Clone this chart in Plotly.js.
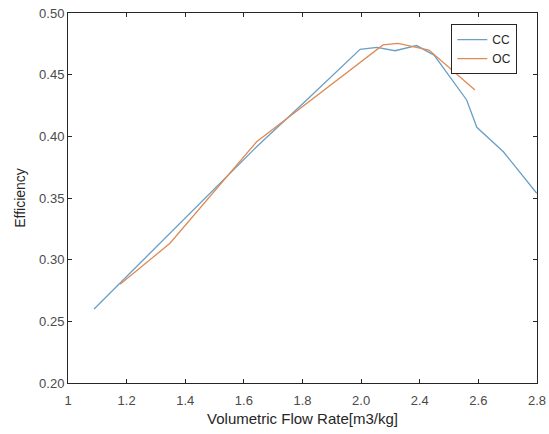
<!DOCTYPE html>
<html>
<head>
<meta charset="utf-8">
<script src="https://cdn.plot.ly/plotly-3.0.1.min.js"></script>
<style>html,body{margin:0;padding:0;background:#fff;}#chart{width:549px;height:434px;}</style>
</head>
<body>
<div id="chart"></div>
<script>
// Data
const ccX = [1.100, 1.724, 1.916, 2.121, 2.186, 2.255, 2.338, 2.405, 2.530, 2.569, 2.671, 2.799];
const ccY = [0.260, 0.3916, 0.4295, 0.4706, 0.4722, 0.4694, 0.4736, 0.4659, 0.4295, 0.4073, 0.3875, 0.3538];
const ocX = [1.200, 1.3915, 1.724, 2.209, 2.2665, 2.3625, 2.3855, 2.562];
const ocY = [0.280, 0.3133, 0.3956, 0.4741, 0.4754, 0.4714, 0.4700, 0.4376];
const xTickVals = [1, 1.225, 1.45, 1.675, 1.9, 2.125, 2.35, 2.575, 2.8];
const xTickText = ['1', '1.2', '1.4', '1.6', '1.8', '2.0', '2.4', '2.6', '2.8'];
const yTickVals = [0.20, 0.25, 0.30, 0.35, 0.40, 0.45, 0.50];
const yTickText = ['0.20', '0.25', '0.30', '0.35', '0.40', '0.45', '0.50'];
const seriesNames = ['CC', 'OC'];

const traces = [
  {x: ccX, y: ccY, name: seriesNames[0], mode: 'lines', type: 'scatter',
   line: {color: '#6a9fc6', width: 1.3}},
  {x: ocX, y: ocY, name: seriesNames[1], mode: 'lines', type: 'scatter',
   line: {color: '#df8a55', width: 1.3}}
];

const axisCommon = {
  showline: true, linecolor: '#262626', linewidth: 1, mirror: 'allticks',
  ticks: 'inside', ticklen: 4, tickcolor: '#262626', tickwidth: 1,
  showgrid: false, zeroline: false,
  tickfont: {family: 'Liberation Sans, Arial, sans-serif', size: 13, color: '#4a4a4a'}
};

const layout = {
  width: 549, height: 434,
  margin: {l: 68, r: 12, t: 13, b: 51, pad: 0},
  paper_bgcolor: '#ffffff', plot_bgcolor: '#ffffff',
  showlegend: true,
  legend: {x: 0.958, xanchor: 'right', y: 0.97, yanchor: 'top',
    bordercolor: '#262626', borderwidth: 1, bgcolor: '#ffffff',
    font: {family: 'Liberation Sans, Arial, sans-serif', size: 12, color: '#262626'},
    tracegroupgap: 0},
  xaxis: Object.assign({}, axisCommon, {
    range: [1, 2.8], tickmode: 'array', tickvals: xTickVals, ticktext: xTickText,
    ticklabelstandoff: 5,
    title: {text: 'Volumetric Flow Rate[m3/kg]', standoff: 6,
      font: {family: 'Liberation Sans, Arial, sans-serif', size: 15, color: '#262626'}}
  }),
  yaxis: Object.assign({}, axisCommon, {
    range: [0.20, 0.50], tickmode: 'array', tickvals: yTickVals, ticktext: yTickText,
    title: {text: 'Efficiency', standoff: 10,
      font: {family: 'Liberation Sans, Arial, sans-serif', size: 14, color: '#262626'}}
  })
};

Plotly.newPlot('chart', traces, layout, {displayModeBar: false, staticPlot: true});
</script>
</body>
</html>
